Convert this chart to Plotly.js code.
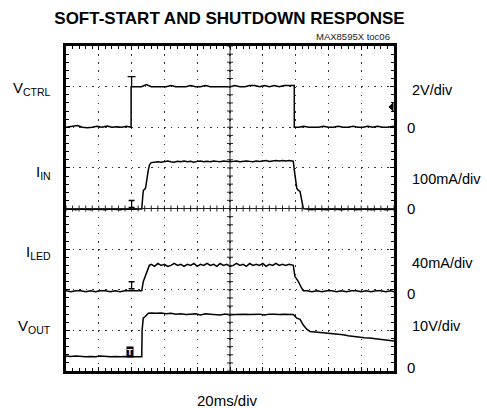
<!DOCTYPE html>
<html>
<head>
<meta charset="utf-8">
<script src="https://cdn.plot.ly/plotly-3.0.1.min.js"></script>
<style>html,body{margin:0;padding:0;background:#fff;}#chart{width:487px;height:408px;}</style>
</head>
<body>
<div id="chart"></div>
<script>
// ---- data (time in ms, trigger at 0; 20 ms/div) ----
const timeRange = [-40, 160];

// V_CTRL (V), 2 V/div
const tCtrl = [-40,-36,-33,-30,-27,-24,-21,-18,-15,-12,-9,-6,-3,-0.3,-0.3,3,6,9,12,15,18,21,24,27,30,33,36,39,42,45,48,51,54,57,60,63,66,69,72,75,78,81,84,87,90,93,96,99.2,99.2,102,105,108,111,114,117,120,123,126,129,132,135,138,141,144,147,150,153,156,160];
const vCtrl = [0,0.05,0.08,0,-0.03,0,0.05,0,0.06,0,0.03,0,0.05,0,2.0,2.0,2.0,2.1,2.0,2.0,2.0,2.0,2.05,2.0,2.0,2.0,2.05,2.0,2.0,2.05,2.0,2.0,2.0,2.0,2.0,2.05,2.0,2.0,2.05,2.05,2.0,2.05,2.0,2.05,2.0,2.05,2.05,2.05,0,0,0.05,0,0,0,0.05,0,0,0.05,0,0,0.05,0,0,0.05,0,0.05,0,0,0.05];

// I_IN (mA), 100 mA/div
const tIn = [-40,-37,-34,-31,-28,-25,-22,-19,-16,-13,-10,-7,-4,-1,2,5,6.2,6.8,7.2,8.0,8.6,10.2,11.0,12,14,16,18,20,22,24,26,28,30,32,34,36,38,40,42,44,46,48,50,52,54,56,58,60,62,64,66,68,70,72,74,76,78,80,82,84,86,88,90,92,94,96,98,98.6,99.2,100.7,101.5,102.7,104.7,107,110,113,116,119,122,125,128,131,134,137,140,143,146,149,152,155,158,160];
const iIn = [-2,-1,-3,-1,-2,-3,-1,-2,-3,-1,-2,-3,-1,-2,-2,-1,-1,30,45,47,52,95,108,113,114,115,114,116,117,115,114,116,115,117,115,116,114,116,117,115,116,115,117,116,115,117,116,115,116,117,115,116,117,116,115,117,116,117,118,116,117,118,117,118,117,118,117,116,95,50,45,42,0,-2,-3,-1,-2,-3,-1,-2,-3,-2,-1,-3,-2,-1,-3,-2,-1,-3,-2,-2];

// I_LED (mA), 40 mA/div
const tLed = [-40,-37,-34,-31,-28,-25,-22,-19,-16,-13,-10,-7,-4,-1,2,5,6.2,7.1,8.2,9.6,10.8,12,14,16,18,20,22,24,26,28,30,32,34,36,38,40,42,44,46,48,50,52,54,56,58,60,62,64,66,68,70,72,74,76,78,80,82,84,86,88,90,92,94,96,98,98.6,99.6,101.7,103.7,104.7,107,110,113,116,119,122,125,128,131,134,137,140,143,146,149,152,155,158,160];
const iLed = [-1,-2,-1,-1,-2,-1,-2,-1,-1,-2,-1,-2,-1,-1,-1,-1,-1,8,13,19,24,25,23,26,24,25,23,24,26,24,25,23,25,24,26,23,25,24,26,24,25,23,26,24,25,23,24,26,24,25,23,26,24,25,24,26,23,25,24,26,24,25,24,25,24,24,13,8,1.5,-1,-1,-2,-1,-2,-1,-1,-2,-1,-2,-1,-1,-2,-1,-2,-1,-1,-2,-1,-2];

// V_OUT (V), 10 V/div
const tOut = [-40,-37,-34,-31,-28,-25,-22,-19,-16,-13,-10,-7,-4,-1,2,5,6.2,6.4,7.1,8,10.2,12,15,18,21,24,27,30,33,36,39,42,45,48,51,54,57,60,63,66,69,72,75,78,81,84,87,90,93,96,98.6,100.7,102,102.7,104.7,106.8,108.8,112,115,119,122,125,129,132,135,139,142,145,149,152,155,158,160];
const vOut = [3.7,3.6,3.7,3.6,3.5,3.6,3.5,3.7,3.6,3.5,3.6,3.5,3.6,3.5,3.5,3.5,3.5,10,13,13.3,14.2,14.3,14.2,14.3,14.1,14.2,14.0,14.1,13.9,14.0,14.1,13.8,14.1,14.0,13.9,13.8,14.0,13.8,13.9,14.0,14.0,13.9,13.9,14.0,13.8,14.0,14.0,13.9,14.0,14.0,13.9,13.0,12.9,12.7,11.3,10.3,9.7,9.6,9.5,9.3,9.2,9.1,8.9,8.7,8.5,8.3,8.2,8.1,7.9,7.8,7.7,7.5,7.4];

const leftLabels = ['V<sub>CTRL</sub>', 'I<sub>IN</sub>', 'I<sub>LED</sub>', 'V<sub>OUT</sub>'];
const scaleLabels = ['2V/div', '100mA/div', '40mA/div', '10V/div'];
const zeroLabel = '0';
const titleText = 'SOFT-START AND SHUTDOWN RESPONSE';
const noteText = 'MAX8595X toc06';
const xLabel = '20ms/div';

// ---- build ----
const FONT = '"Liberation Sans", Arial, sans-serif';
const line = {color: '#000', width: 1.5};
const traces = [
  {x: tCtrl, y: vCtrl, yaxis: 'y2', mode: 'lines', line: line, hoverinfo: 'skip'},
  {x: tIn, y: iIn, yaxis: 'y3', mode: 'lines', line: line, hoverinfo: 'skip'},
  {x: tLed, y: iLed, yaxis: 'y4', mode: 'lines', line: line, hoverinfo: 'skip'},
  {x: tOut, y: vOut, yaxis: 'y', mode: 'lines', line: line, hoverinfo: 'skip'}
];

const shapes = [];
// centre cross-hair with minor ticks
shapes.push({type: 'line', xref: 'x', yref: 'y', x0: 60, x1: 60, y0: 0, y1: 80, line: {color: '#222', width: 1}});
shapes.push({type: 'line', xref: 'x', yref: 'y', x0: -40, x1: 160, y0: 40, y1: 40, line: {color: '#222', width: 1}});
for (let t = timeRange[0]; t <= timeRange[1]; t += 4) {
  shapes.push({type: 'line', xref: 'x', yref: 'y', ysizemode: 'pixel', yanchor: 40, x0: t, x1: t, y0: -3, y1: 3, line: {color: '#222', width: 1}});
}
for (let v = 0; v <= 80; v += 2) {
  shapes.push({type: 'line', xref: 'x', yref: 'y', xsizemode: 'pixel', xanchor: 60, x0: -3, x1: 3, y0: v, y1: v, line: {color: '#222', width: 1}});
}
// trigger markers
shapes.push({type: 'path', xref: 'x', yref: 'y2', xsizemode: 'pixel', ysizemode: 'pixel', xanchor: 0, yanchor: 2, path: 'M-4,10 L4,10 M0,10 L0,0', line: {color: '#000', width: 1.3}});
shapes.push({type: 'path', xref: 'x', yref: 'y3', xsizemode: 'pixel', ysizemode: 'pixel', xanchor: 0, yanchor: 0, path: 'M-3,8 L3,8 M0,8 L0,1 M-3,1 L3,1', line: {color: '#000', width: 1.3}});
shapes.push({type: 'path', xref: 'x', yref: 'y4', xsizemode: 'pixel', ysizemode: 'pixel', xanchor: 0, yanchor: 0, path: 'M-3,8 L3,8 M0,8 L0,1 M-3,1 L3,1', line: {color: '#000', width: 1.3}});
// channel marker at right edge
shapes.push({type: 'path', xref: 'paper', yref: 'y2', xsizemode: 'pixel', ysizemode: 'pixel', xanchor: 1, yanchor: 1, path: 'M-1,4 L-5,0 L-1,-4 Z', fillcolor: '#000', line: {color: '#000', width: 1}});

const ann = [];
const leftY = [0.8677, 0.6123, 0.3631, 0.1354];
leftLabels.forEach((txt, i) => ann.push({text: txt, xref: 'paper', yref: 'paper', x: 0, y: leftY[i], xanchor: 'right', yanchor: 'middle', xshift: -13, showarrow: false, font: {family: FONT, size: 15, color: '#000'}}));
const scaleY = [0.8646, 0.5908, 0.3323, 0.1385];
scaleLabels.forEach((txt, i) => ann.push({text: txt, xref: 'paper', yref: 'paper', x: 1, y: scaleY[i], xanchor: 'left', yanchor: 'middle', xshift: 16, showarrow: false, font: {family: FONT, size: 14.5, color: '#000'}}));
const zeroY = [0.7477, 0.5, 0.24, 0.0123];
zeroY.forEach(y => ann.push({text: zeroLabel, xref: 'paper', yref: 'paper', x: 1, y: y, xanchor: 'left', yanchor: 'middle', xshift: 11, showarrow: false, font: {family: FONT, size: 15, color: '#000'}}));
ann.push({text: noteText, xref: 'paper', yref: 'paper', x: 1, y: 1.0277, xanchor: 'right', yanchor: 'middle', xshift: -2, showarrow: false, font: {family: FONT, size: 9.5, color: '#222'}});
ann.push({text: xLabel, xref: 'paper', yref: 'paper', x: 0.491, y: -0.0923, xanchor: 'center', yanchor: 'middle', showarrow: false, font: {family: FONT, size: 15, color: '#000'}});
// V_OUT trigger box
ann.push({text: '<b>T</b>', xref: 'x', yref: 'y', x: -1, y: 4.75, xanchor: 'center', yanchor: 'middle', showarrow: false, bgcolor: '#000', borderpad: 0, font: {family: FONT, size: 9, color: '#fff'}});

const axCommon = {
  showline: true, linecolor: '#000', linewidth: 3, mirror: 'ticks',
  ticks: 'inside', ticklen: 4, tickwidth: 1, tickcolor: '#000',
  showticklabels: false, zeroline: false, showgrid: true, gridcolor: '#333', gridwidth: 1.2, fixedrange: true
};
const layout = {
  width: 487, height: 408,
  margin: {l: 66, r: 93, t: 46, b: 37},
  paper_bgcolor: '#fff', plot_bgcolor: '#fff',
  showlegend: false,
  title: {text: '<b>' + titleText + '</b>', xref: 'container', yref: 'container', x: 0.4713, y: 0.9547, xanchor: 'center', yanchor: 'middle', font: {family: FONT, size: 17, color: '#000'}},
  xaxis: Object.assign({}, axCommon, {range: timeRange, tick0: -40, dtick: 20, griddash: '1.5px,6.625px', minor: {dtick: 4, ticks: 'inside', ticklen: 3, tickcolor: '#000', showgrid: false}}),
  yaxis: Object.assign({}, axCommon, {range: [0, 80], tick0: 0, dtick: 10, griddash: '1.5px,5.06px', minor: {dtick: 2, ticks: 'inside', ticklen: 3, tickcolor: '#000', showgrid: false}}),
  yaxis2: {overlaying: 'y', range: [-12, 4], visible: false, fixedrange: true},
  yaxis3: {overlaying: 'y', range: [-400, 400], visible: false, fixedrange: true},
  yaxis4: {overlaying: 'y', range: [-80, 240], visible: false, fixedrange: true},
  shapes: shapes,
  annotations: ann
};
Plotly.newPlot('chart', traces, layout, {staticPlot: true, displayModeBar: false});
</script>
</body>
</html>
